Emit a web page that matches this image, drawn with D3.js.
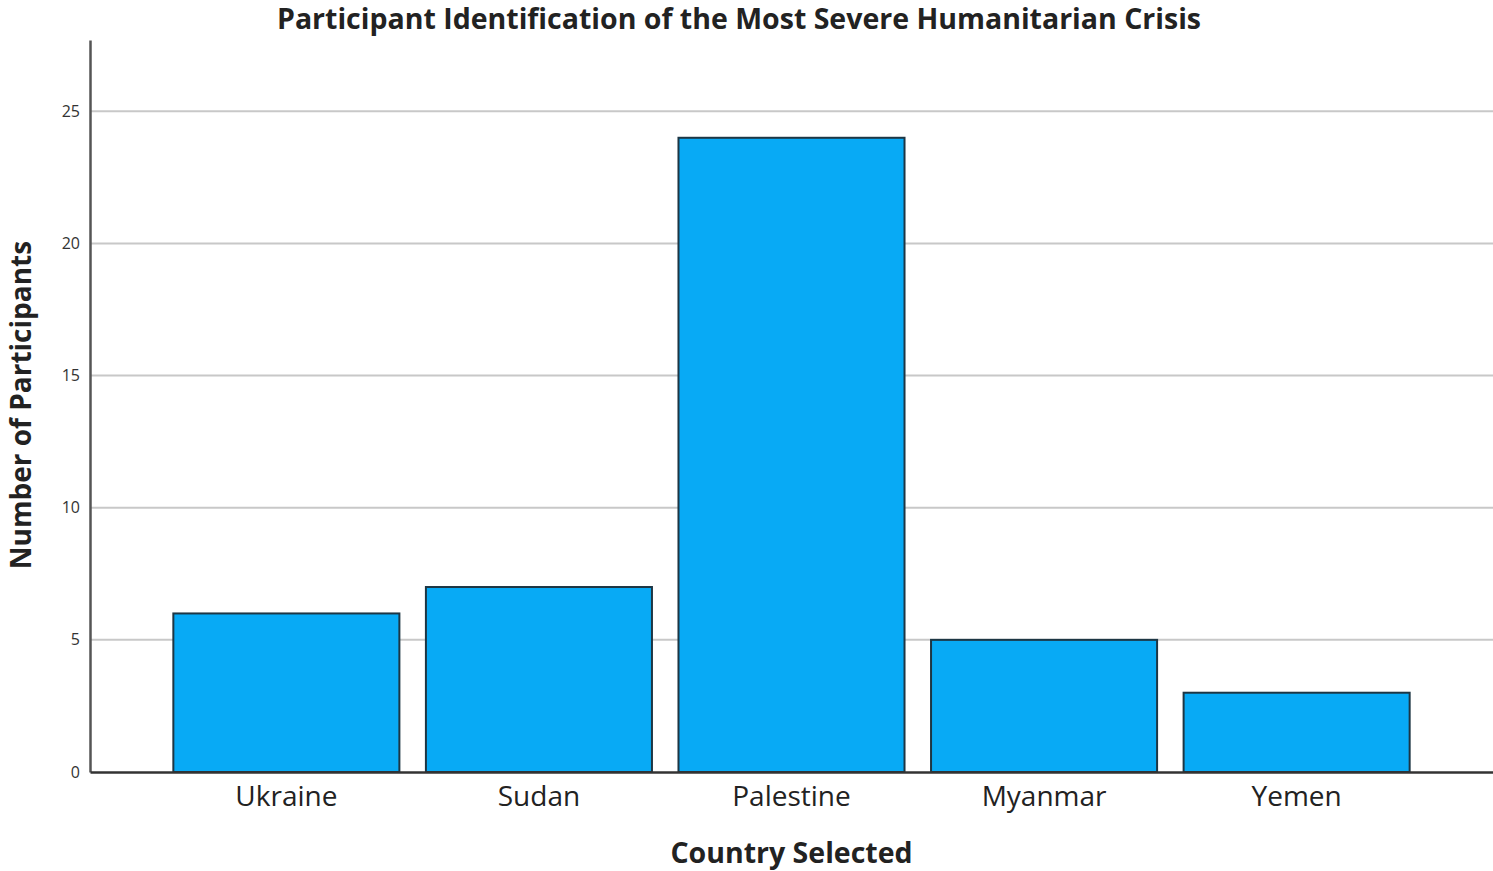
<!DOCTYPE html>
<html>
<head>
<meta charset="utf-8">
<script src="https://cdn.jsdelivr.net/npm/d3@7"></script>
<style>
  body { margin: 0; background: #fff; }
  text { font-family: "Open Sans", "DejaVu Sans", sans-serif; fill: #222; }
</style>
</head>
<body>
<div id="Chart"></div>
<script>
var w = 1493;
var h = 871;

var countries = ["Ukraine", "Sudan", "Palestine", "Myanmar", "Yemen"];
var participants = [6, 7, 24, 5, 3];
var yTicks = [0, 5, 10, 15, 20, 25];

var mLeft = 90, mRight = 1493, mTop = 40, mBottom = 772;

var svg = d3.select("#Chart").append("svg")
    .attr("width", w)
    .attr("height", h);

var xScale = d3.scaleBand()
    .domain(countries)
    .range([mLeft, mRight])
    .paddingInner(0.105)
    .paddingOuter(0.33);

var yScale = d3.scaleLinear()
    .domain([0, 27.7])
    .range([mBottom, mTop]);

// grid lines
svg.append("g")
    .selectAll("line")
    .data(yTicks.filter(function(d){ return d > 0; }))
    .enter()
    .append("line")
    .attr("x1", mLeft)
    .attr("x2", mRight)
    .attr("y1", function(d){ return yScale(d); })
    .attr("y2", function(d){ return yScale(d); })
    .attr("stroke", "#c8c8c8")
    .attr("stroke-width", 2);

// bars
svg.append("g")
    .selectAll("rect")
    .data(participants)
    .enter()
    .append("rect")
    .attr("x", function(d, i){ return xScale(countries[i]); })
    .attr("width", xScale.bandwidth())
    .attr("y", function(d){ return yScale(d); })
    .attr("height", function(d){ return yScale(0) - yScale(d); })
    .attr("fill", "#08aaf5")
    .attr("stroke", "#1d3644")
    .attr("stroke-width", 2);

// y axis
var yAxis = svg.append("g")
    .attr("transform", "translate(" + mLeft + ",0)")
    .call(d3.axisLeft(yScale).tickValues(yTicks).tickSize(0).tickPadding(10));
yAxis.select(".domain").attr("stroke", "#555").attr("stroke-width", 2.5);
yAxis.selectAll("text")
    .style("font-size", "16px")
    .style("fill", "#333");

// x axis
var xAxis = svg.append("g")
    .attr("transform", "translate(0," + mBottom + ")")
    .call(d3.axisBottom(xScale).tickSize(0).tickPadding(14));
xAxis.select(".domain").attr("stroke", "#333").attr("stroke-width", 2.5);
xAxis.selectAll("text")
    .style("font-size", "28px")
    .style("fill", "#222");

// title
svg.append("text")
    .attr("x", 739)
    .attr("y", 29)
    .attr("text-anchor", "middle")
    .style("font-size", "28.5px")
    .style("font-weight", "bold")
    .text("Participant Identification of the Most Severe Humanitarian Crisis");

svg.append("text")
    .attr("x", (mLeft + mRight) / 2)
    .attr("y", 863)
    .attr("text-anchor", "middle")
    .style("font-size", "28.5px")
    .style("font-weight", "bold")
    .text("Country Selected");

svg.append("text")
    .attr("transform", "translate(31," + 405 + ") rotate(-90)")
    .attr("text-anchor", "middle")
    .style("font-size", "28px")
    .style("font-weight", "bold")
    .text("Number of Participants");
</script>
</body>
</html>
